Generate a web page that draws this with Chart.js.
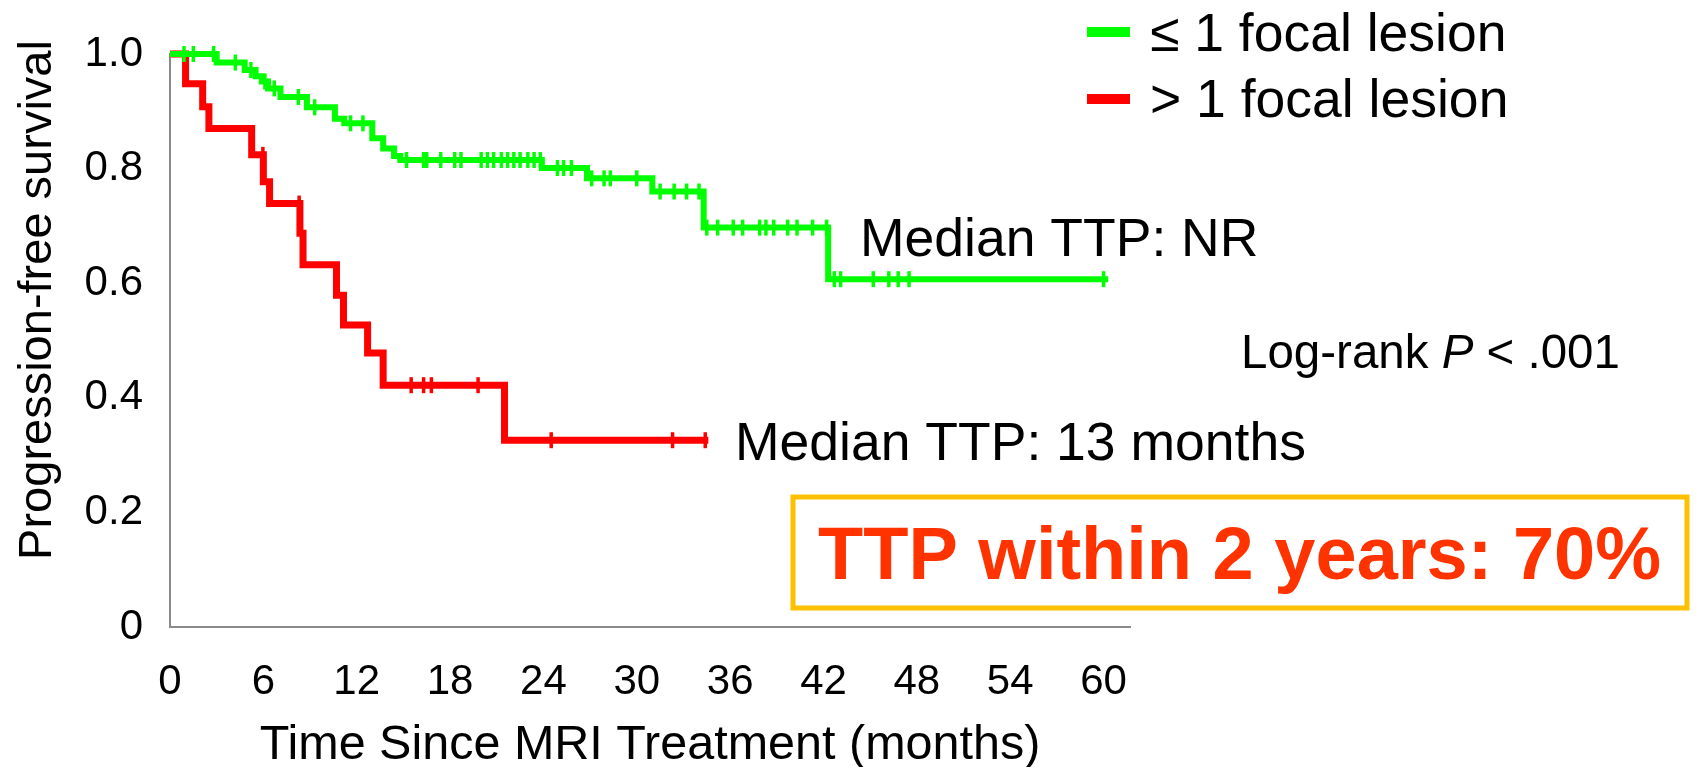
<!DOCTYPE html>
<html>
<head>
<meta charset="utf-8">
<title>Progression-free survival by focal lesion count</title>
<script src="https://cdn.jsdelivr.net/npm/chart.js@4.4.1/dist/chart.umd.min.js"></script>
<style>
  html, body { margin: 0; padding: 0; background: #ffffff; }
  canvas { display: block; }
</style>
</head>
<body>
<canvas id="km" width="1696" height="767"></canvas>
<script>
// ---- Data -------------------------------------------------------------
// Axis ticks (months since MRI treatment / survival fraction)
const monthTicks = [0, 6, 12, 18, 24, 30, 36, 42, 48, 54, 60];
const survivalTicks = [0, 0.2, 0.4, 0.6, 0.8, 1.0];
const survivalTickLabels = ['0', '0.2', '0.4', '0.6', '0.8', '1.0'];

const groupLabels = ['\u2264 1 focal lesion', '> 1 focal lesion'];

// Kaplan-Meier steps, ≤ 1 focal lesion: time of each event and survival after it
const lowTimes = [0, 3.0, 4.8, 5.5, 5.9, 6.3, 7.1, 8.8, 10.6, 11.2, 13.0, 13.7, 14.4, 14.8, 23.9, 26.8, 31.0, 34.3, 42.3, 60.3];
const lowSurvival = [1.0, 0.985, 0.972, 0.961, 0.952, 0.940, 0.925, 0.907, 0.887, 0.879, 0.853, 0.835, 0.822, 0.815, 0.801, 0.783, 0.760, 0.697, 0.607, 0.607];
// censored observations (months)
const lowCensored = [0.9, 1.5, 2.8, 4.2, 5.2, 6.1, 6.7, 8.25, 9.3, 11.6, 12.4, 15.2, 16.3, 16.5, 17.4, 18.3, 18.7, 20.0, 20.4, 20.8, 21.3, 21.7, 22.1, 22.5, 23.0, 23.4, 23.8, 24.9, 25.3, 25.8, 27.1, 27.9, 28.3, 30.0, 31.5, 32.4, 33.2, 34.0, 34.5, 35.2, 36.2, 36.8, 37.9, 38.3, 38.8, 39.7, 40.3, 41.3, 42.2, 42.7, 43.1, 45.2, 46.2, 46.8, 47.5, 60.0];

// Kaplan-Meier steps, > 1 focal lesion
const highTimes = [0, 1.0, 2.1, 2.5, 5.25, 6.0, 6.4, 8.35, 8.55, 10.7, 11.15, 12.7, 13.7, 21.5, 34.6];
const highSurvival = [1.0, 0.948, 0.908, 0.870, 0.824, 0.777, 0.739, 0.687, 0.632, 0.579, 0.527, 0.478, 0.422, 0.326, 0.326];
const highCensored = [5.97, 8.3, 15.5, 16.3, 16.8, 19.8, 24.5, 32.3, 34.4];

// Annotation texts
const xTitle = 'Time Since MRI Treatment (months)';
const yTitle = 'Progression-free survival';
const medianLowText = 'Median TTP: NR';
const medianHighText = 'Median TTP: 13 months';
const logRankParts = ['Log-rank ', 'P', ' < .001'];
const highlightText = 'TTP within 2 years: 70%';

// ---- Helpers ----------------------------------------------------------
function stepPoints(times, surv) {
  return times.map((t, i) => ({ x: t, y: surv[i] }));
}
// survival level of a step curve at time t
function levelAt(times, surv, t) {
  let lvl = surv[0];
  for (let i = 0; i < times.length; i++) {
    if (times[i] <= t) lvl = surv[i]; else break;
  }
  return lvl;
}
function censorPoints(times, surv, censored) {
  return censored.map(t => ({ x: t, y: levelAt(times, surv, t) }));
}

const FONT = '"Liberation Sans", Arial, Helvetica, sans-serif';
const GREEN = '#00ff00';
const RED = '#ff0000';

Chart.defaults.font.family = FONT;
Chart.defaults.color = '#000000';

// Legend, annotations and the boxed highlight
const overlay = {
  id: 'overlay',
  afterDraw(chart) {
    const ctx = chart.ctx;
    const ds = chart.data.datasets;
    ctx.save();

    // legend (the two curve datasets)
    ctx.textBaseline = 'alphabetic';
    ctx.textAlign = 'left';
    ctx.font = '53.5px ' + FONT;
    [[0, 32, 51], [2, 99, 117]].forEach(([i, mid, base]) => {
      ctx.fillStyle = ds[i].borderColor;
      ctx.fillRect(1087, mid - 5, 43, 10);
      ctx.fillStyle = '#000000';
      ctx.fillText(ds[i].label, 1150, base);
    });

    // y-axis title
    ctx.save();
    ctx.translate(38, 300);
    ctx.rotate(-Math.PI / 2);
    ctx.textAlign = 'center';
    ctx.textBaseline = 'middle';
    ctx.font = '47px ' + FONT;
    ctx.fillStyle = '#000000';
    ctx.fillText(yTitle, 0, 0);
    ctx.restore();

    // median labels
    ctx.fillStyle = '#000000';
    ctx.font = '53.5px ' + FONT;
    ctx.fillText(medianLowText, 860, 256);
    ctx.fillText(medianHighText, 735, 460);

    // log-rank with italic P
    let x = 1241;
    const base = 368;
    ctx.font = '47.5px ' + FONT;
    ctx.fillText(logRankParts[0], x, base);
    x += ctx.measureText(logRankParts[0]).width;
    ctx.font = 'italic 47.5px ' + FONT;
    ctx.fillText(logRankParts[1], x, base);
    x += ctx.measureText(logRankParts[1]).width;
    ctx.font = '47.5px ' + FONT;
    ctx.fillText(logRankParts[2], x, base);

    // highlight box
    ctx.fillStyle = '#ffffff';
    ctx.fillRect(793, 497, 894, 111);
    ctx.lineWidth = 5;
    ctx.strokeStyle = '#ffc000';
    ctx.strokeRect(793, 497, 894, 111);
    ctx.fillStyle = '#ff3300';
    ctx.font = 'bold 74px ' + FONT;
    ctx.fillText(highlightText, 818, 579);

    ctx.restore();
  }
};

new Chart(document.getElementById('km'), {
  type: 'line',
  data: {
    datasets: [
      {
        label: groupLabels[0],
        data: stepPoints(lowTimes, lowSurvival),
        borderColor: GREEN,
        backgroundColor: GREEN,
        borderWidth: 6,
        stepped: 'before',
        pointRadius: 0,
        fill: false,
        clip: false
      },
      {
        label: groupLabels[0] + ' censored',
        type: 'scatter',
        data: censorPoints(lowTimes, lowSurvival, lowCensored),
        showLine: false,
        pointStyle: 'line',
        pointRotation: 90,
        pointRadius: 8,
        pointBorderWidth: 3.5,
        borderColor: GREEN,
        backgroundColor: GREEN,
        clip: false
      },
      {
        label: groupLabels[1],
        data: stepPoints(highTimes, highSurvival),
        borderColor: RED,
        backgroundColor: RED,
        borderWidth: 7,
        stepped: 'before',
        pointRadius: 0,
        fill: false,
        clip: false
      },
      {
        label: groupLabels[1] + ' censored',
        type: 'scatter',
        data: censorPoints(highTimes, highSurvival, highCensored),
        showLine: false,
        pointStyle: 'line',
        pointRotation: 90,
        pointRadius: 8,
        pointBorderWidth: 3.5,
        borderColor: RED,
        backgroundColor: RED,
        clip: false
      }
    ]
  },
  options: {
    responsive: false,
    animation: false,
    devicePixelRatio: 1,
    layout: { padding: { left: 0, top: 54, right: 566, bottom: 0 } },
    plugins: {
      legend: { display: false },
      tooltip: { enabled: false },
      title: { display: false }
    },
    scales: {
      x: {
        type: 'linear',
        min: 0,
        max: 61.7,
        afterBuildTicks: s => { s.ticks = monthTicks.map(v => ({ value: v })); },
        afterFit: s => { s.height = 140; },
        grid: { display: false, drawTicks: false },
        border: { display: true, color: '#8a8a8a', width: 2 },
        ticks: {
          autoSkip: false,
          maxRotation: 0,
          padding: 30,
          color: '#000000',
          font: { size: 42 },
          callback: v => String(v)
        },
        title: {
          display: true,
          text: xTitle,
          color: '#000000',
          font: { size: 48.5, lineHeight: 0.9 },
          padding: 0
        }
      },
      y: {
        type: 'linear',
        min: 0,
        max: 1,
        afterBuildTicks: s => { s.ticks = survivalTicks.map(v => ({ value: v })); },
        afterFit: s => { s.width = 170; },
        grid: { display: false, drawTicks: false },
        border: { display: true, color: '#8a8a8a', width: 2 },
        ticks: {
          padding: 27,
          color: '#000000',
          font: { size: 42 },
          callback: (v, i) => survivalTickLabels[i]
        }
      }
    }
  },
  plugins: [overlay]
});
</script>
</body>
</html>
